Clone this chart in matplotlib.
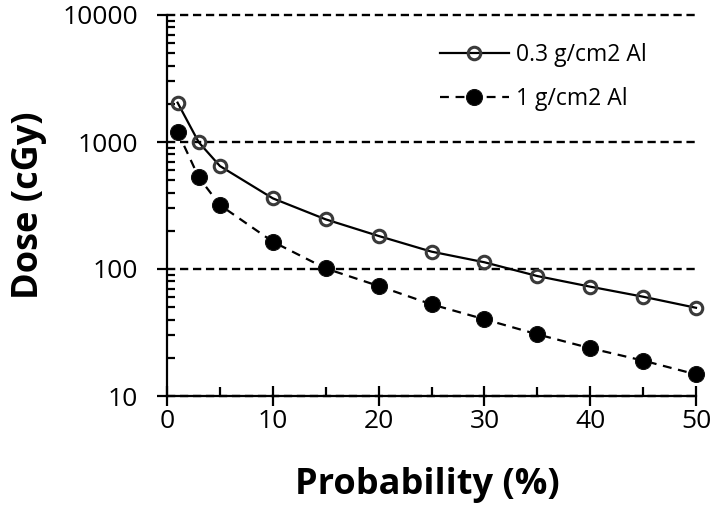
import numpy as np
import matplotlib
matplotlib.use("Agg")
import matplotlib.pyplot as plt
from matplotlib.ticker import FixedLocator, LogLocator, NullFormatter

plt.rcParams['font.family'] = ['Open Sans', 'DejaVu Sans']

# probability (%) vs dose (cGy)
prob = [1, 3, 5, 10, 15, 20, 25, 30, 35, 40, 45, 50]
dose_03 = [2040, 995, 647, 360, 246, 182, 137, 113, 88, 72.6, 60.5, 49.5]
dose_1 = [1205, 527, 319, 164, 101, 73.5, 52.7, 40.2, 30.6, 23.8, 19.0, 14.8]
label_03 = "0.3 g/cm2 Al"
label_1 = "1 g/cm2 Al"

fig = plt.figure(figsize=(7.12, 5.14), dpi=100)
ax = fig.add_axes([167/712, 1-396/514, 529/712, 381/514])

ax.set_yscale('log')
ax.set_xlim(0, 50)
ax.set_ylim(10, 10000)

ax.plot(prob, dose_03, '-', color='black', lw=1.6, marker='o', ms=9, mew=2.2,
        mfc='none', mec='#3a3a3a', label=label_03, clip_on=False, zorder=3)
ax.plot(prob, dose_1, color='black', lw=1.6, linestyle=(0, (4, 3)), marker='o',
        ms=11.5, mew=0.8, mfc='black', mec='#111111', label=label_1, clip_on=False, zorder=3)

for s in ['top', 'right']:
    ax.spines[s].set_visible(False)
for s in ['left', 'bottom']:
    ax.spines[s].set_linewidth(1.6)

ax.xaxis.set_major_locator(FixedLocator([0, 10, 20, 30, 40, 50]))
ax.xaxis.set_minor_locator(FixedLocator([5, 15, 25, 35, 45]))
ax.yaxis.set_major_locator(FixedLocator([10, 100, 1000, 10000]))
ax.yaxis.set_minor_locator(LogLocator(base=10, subs=np.arange(2, 10)))
ax.yaxis.set_minor_formatter(NullFormatter())
ax.set_yticklabels(['10', '100', '1000', '10000'])

ax.yaxis.grid(True, which='major', linestyle=(0, (3.5, 2)), color='black', lw=1.7)
ax.set_axisbelow(True)
for gl in ax.get_ygridlines():
    gl.set_clip_on(False)

ax.tick_params(axis='x', which='major', direction='inout', length=14, width=1.6,
               labelsize=19, pad=2)
ax.tick_params(axis='x', which='minor', direction='in', length=6.5, width=1.6)
ax.tick_params(axis='y', which='major', direction='out', length=7, width=1.6,
               labelsize=19, pad=14)
ax.tick_params(axis='y', which='minor', direction='in', length=5.5, width=1.6)

ax.set_xlabel("Probability (%)", fontsize=26, fontweight='bold', va='center')
ax.xaxis.set_label_coords(0.493, -0.233)
ax.set_ylabel("Dose (cGy)", fontsize=26, fontweight='bold', va='center')
ax.yaxis.set_label_coords(-0.261, 0.5)

leg = ax.legend(loc='upper left', bbox_to_anchor=(0.516, 0.927), frameon=False,
                fontsize=16.5, handlelength=3, handletextpad=0.3,
                labelspacing=0.9, borderaxespad=0, borderpad=0)

fig.savefig("out.png", dpi=100)
